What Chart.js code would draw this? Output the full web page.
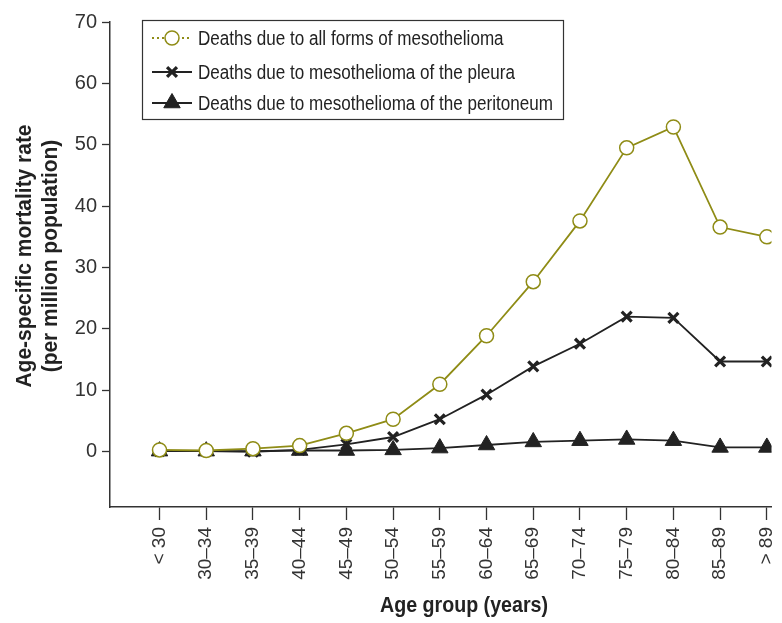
<!DOCTYPE html>
<html>
<head>
<meta charset="utf-8">
<script src="https://cdn.jsdelivr.net/npm/chart.js@4.4.1/dist/chart.umd.min.js"></script>
<style>
  html, body { margin: 0; padding: 0; background: #fff; }
  #wrap { width: 782px; height: 623px; }
</style>
</head>
<body>
<div id="wrap"><canvas id="chart" width="782" height="623"></canvas></div>
<script>
// Age groups (x categories)
const ageGroups = ["< 30", "30\u201334", "35\u201339", "40\u201344", "45\u201349", "50\u201354", "55\u201359",
  "60\u201364", "65\u201369", "70\u201374", "75\u201379", "80\u201384", "85\u201389", "> 89"];

// Age-specific mortality rate (per million population)
const allForms    = [0.3, 0.2, 0.5, 1.0, 3.0, 5.3, 11.0, 18.9, 27.7, 37.6, 49.5, 52.9, 36.6, 35.0];
const pleura      = [0.1, 0.1, 0.0, 0.3, 1.2, 2.4, 5.3, 9.3, 13.9, 17.6, 22.0, 21.8, 14.7, 14.7];
const peritoneum  = [0.1, 0.1, 0.1, 0.2, 0.2, 0.3, 0.6, 1.1, 1.6, 1.8, 2.0, 1.8, 0.7, 0.7];

const yTicks = [0, 10, 20, 30, 40, 50, 60, 70];

const seriesNames = [
  "Deaths due to all forms of mesothelioma",
  "Deaths due to mesothelioma of the pleura",
  "Deaths due to mesothelioma of the peritoneum"
];

const OLIVE = "#8f8c16";
const DARK = "#222222";
const SANS = '"Liberation Sans", Arial, sans-serif';

const toPoints = arr => arr.map((v, i) => ({ x: i, y: v }));

// draw text squeezed horizontally so it looks like a condensed face
function narrowText(ctx, text, x, y, sx) {
  ctx.save();
  ctx.translate(x, y);
  ctx.scale(sx, 1);
  ctx.fillText(text, 0, 0);
  ctx.restore();
}

// custom legend box: line sample + marker + text
const legendBox = {
  id: "legendBox",
  afterDraw(chart) {
    const ctx = chart.ctx;
    const x0 = 142, y0 = 20, w = 421, h = 99;
    ctx.save();
    ctx.fillStyle = "#fff";
    ctx.fillRect(x0, y0, w, h);
    ctx.strokeStyle = "#333";
    ctx.lineWidth = 1.2;
    ctx.strokeRect(x0 + 0.5, y0 + 0.5, w, h);

    ctx.font = "20px " + SANS;
    const longest = Math.max(...seriesNames.map(s => ctx.measureText(s).width));
    const sx = 355 / longest;

    const rows = [38, 72, 103];
    chart.data.datasets.forEach((ds, i) => {
      const y = rows[i];
      ctx.strokeStyle = ds.borderColor;
      ctx.lineWidth = ds.borderWidth;
      ctx.setLineDash(i === 0 ? [2, 3] : []);
      ctx.beginPath();
      ctx.moveTo(152, y);
      ctx.lineTo(192, y);
      ctx.stroke();
      ctx.setLineDash([]);

      ctx.fillStyle = ds.pointBackgroundColor;
      ctx.strokeStyle = ds.pointBorderColor;
      ctx.lineWidth = ds.pointBorderWidth;
      Chart.helpers.drawPoint(ctx, {
        pointStyle: ds.pointStyle,
        radius: ds.pointRadius,
        borderWidth: ds.pointBorderWidth,
        rotation: 0
      }, 172, y);

      ctx.fillStyle = "#222";
      ctx.textBaseline = "middle";
      ctx.textAlign = "left";
      narrowText(ctx, ds.label, 198, y + 1, sx);
    });
    ctx.restore();
  }
};

// axis titles placed like the original figure
const axisTitles = {
  id: "axisTitles",
  afterDraw(chart) {
    const ctx = chart.ctx;
    ctx.save();
    ctx.fillStyle = "#222";
    ctx.font = "bold 22px " + SANS;
    ctx.textAlign = "center";
    ctx.textBaseline = "middle";
    const xt = "Age group (years)";
    narrowText(ctx, xt, 464, 606, 168 / ctx.measureText(xt).width);

    const yt1 = "Age-specific mortality rate";
    const sy = 263 / ctx.measureText(yt1).width;
    ctx.translate(0, 256);
    ctx.rotate(-Math.PI / 2);
    narrowText(ctx, yt1, 0, 25, sy);
    narrowText(ctx, "(per million population)", 0, 51, sy);
    ctx.restore();
  }
};

new Chart(document.getElementById("chart"), {
  type: "line",
  data: {
    datasets: [
      {
        label: seriesNames[0],
        data: toPoints(allForms),
        borderColor: OLIVE,
        borderWidth: 1.8,
        pointStyle: "circle",
        pointRadius: 7,
        pointBorderWidth: 1.5,
        pointBackgroundColor: "#fff",
        pointBorderColor: OLIVE
      },
      {
        label: seriesNames[1],
        data: toPoints(pleura),
        borderColor: DARK,
        borderWidth: 1.8,
        pointStyle: "crossRot",
        pointRadius: 7,
        pointBorderWidth: 3.2,
        pointBackgroundColor: DARK,
        pointBorderColor: DARK
      },
      {
        label: seriesNames[2],
        data: toPoints(peritoneum),
        borderColor: DARK,
        borderWidth: 1.8,
        pointStyle: "triangle",
        pointRadius: 9.5,
        pointBorderWidth: 1,
        pointBackgroundColor: DARK,
        pointBorderColor: DARK
      }
    ]
  },
  options: {
    responsive: false,
    animation: false,
    layout: { padding: { top: 22, right: 4, left: 0, bottom: 0 } },
    plugins: { legend: { display: false }, tooltip: { enabled: false } },
    scales: {
      x: {
        type: "linear",
        min: -1.06,
        max: 13.1,
        afterBuildTicks: s => { s.ticks = ageGroups.map((_, i) => ({ value: i })); },
        afterFit: s => { s.height = 116; s.paddingLeft = 0; s.paddingRight = 0; },
        ticks: {
          autoSkip: false,
          minRotation: 90,
          maxRotation: 90,
          padding: 7,
          color: "#333",
          font: { family: SANS, size: 19 },
          callback: v => ageGroups[v]
        },
        grid: { drawOnChartArea: false, drawTicks: true, tickLength: 13, tickColor: "#333", tickWidth: 1.3 },
        border: { display: true, color: "#333", width: 1.5 }
      },
      y: {
        min: -9,
        max: 70,
        afterBuildTicks: s => { s.ticks = yTicks.map(v => ({ value: v })); },
        afterFit: s => { s.width = 110; },
        ticks: {
          padding: 5,
          color: "#333",
          font: { family: SANS, size: 20 }
        },
        grid: { drawOnChartArea: false, drawTicks: true, tickLength: 8, tickColor: "#333", tickWidth: 1.3 },
        border: { display: true, color: "#333", width: 1.5 }
      }
    }
  },
  plugins: [legendBox, axisTitles]
});
</script>
</body>
</html>
